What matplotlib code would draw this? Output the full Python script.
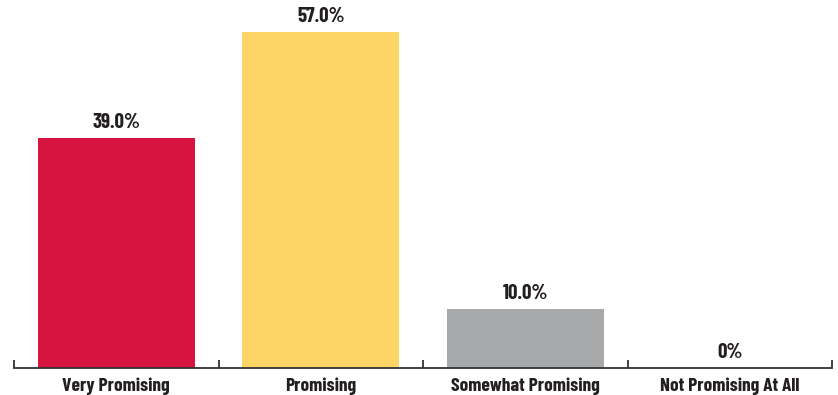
import matplotlib
matplotlib.use("Agg")
from matplotlib import pyplot as plt

categories = ["Very Promising", "Promising", "Somewhat Promising", "Not Promising At All"]
values = [39.0, 57.0, 10.0, 0.0]
value_labels = ["39.0%", "57.0%", "10.0%", "0%"]
colors = ["#D7143F", "#FDD567", "#A7A8AA", "#FFFFFF"]

# condensed bold, close to the original's gothic
plt.rcParams["font.family"] = ["Barlow Condensed", "DejaVu Sans"]

fig = plt.figure(figsize=(8.38, 3.95), dpi=100)
ax = fig.add_axes([14 / 838, 27 / 395, 818 / 838, 368 / 395])

x = list(range(len(categories)))
ax.bar(x, values, width=0.77, color=colors)

for xi, v, lab in zip(x, values, value_labels):
    ax.annotate(lab, (xi, v), xytext=(0, 4.5), textcoords="offset points",
                ha="center", va="bottom", fontsize=15, fontweight="bold",
                color="#231F20")

ax.set_xlim(-0.5, len(categories) - 0.5)
ax.set_ylim(0, 62.4)

# boundary ticks, labels sit between them
ax.set_xticks([i - 0.5 for i in range(len(categories) + 1)])
ax.set_xticklabels([])
ax.set_xticks(x, minor=True)
ax.set_xticklabels(categories, minor=True, fontsize=14, fontweight="bold",
                   color="#231F20")
ax.tick_params(axis="x", which="major", direction="in", length=6, width=1.3,
               color="#333333")
ax.tick_params(axis="x", which="minor", length=0, pad=7)

ax.set_yticks([])
for side in ["left", "right", "top"]:
    ax.spines[side].set_visible(False)
ax.spines["bottom"].set_color("#333333")
ax.spines["bottom"].set_linewidth(1.3)

plt.savefig("out.png", dpi=100)
plt.close()
